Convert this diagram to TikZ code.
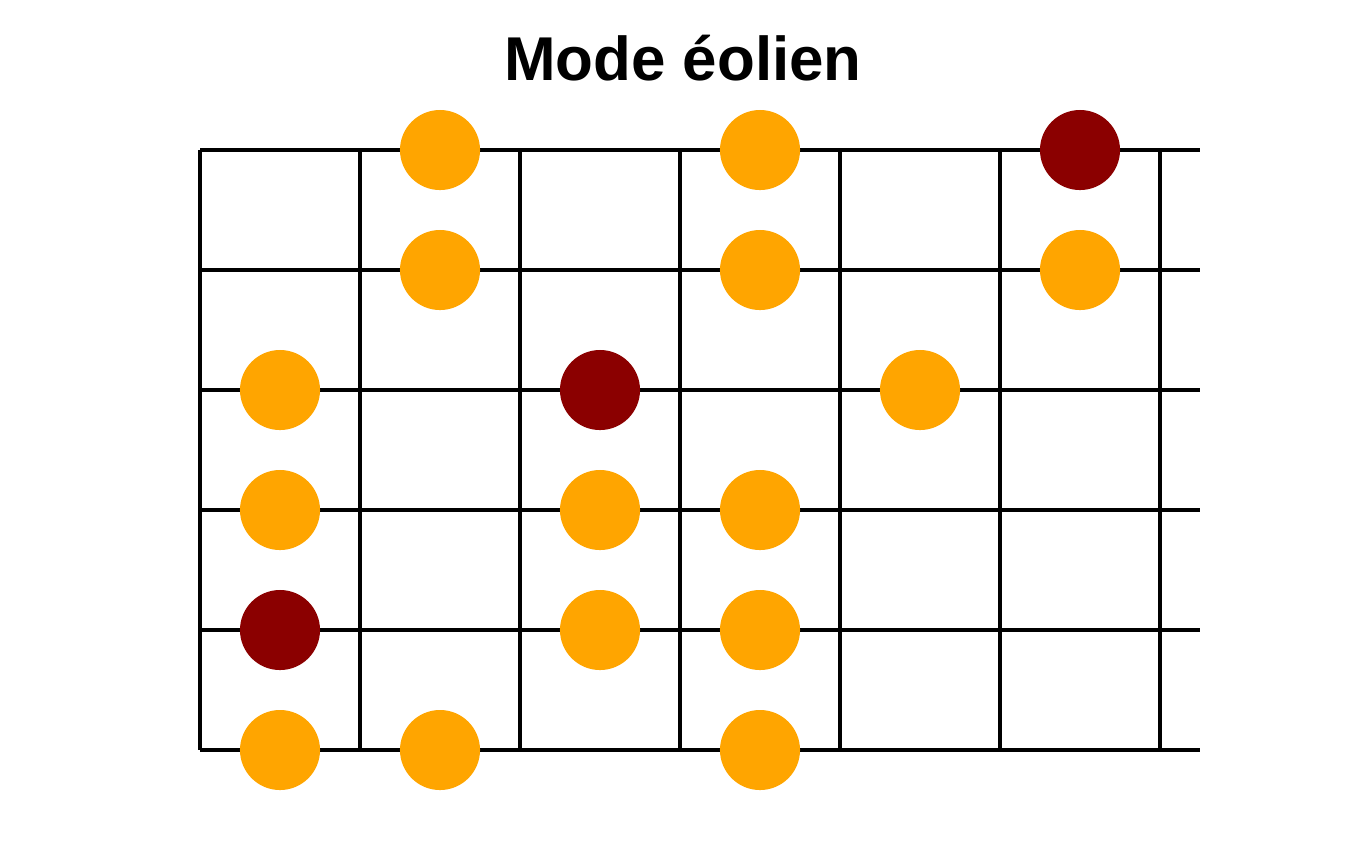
\documentclass[tikz,border=0pt]{standalone}
\usepackage{fontspec}
\setmainfont{Liberation Sans}
\definecolor{dorange}{RGB}{255,165,0}
\definecolor{droot}{RGB}{139,0,0}
\begin{document}
\begin{tikzpicture}[x=0.01cm,y=-0.01cm,
  fretline/.style={line width=0.04cm,black},
  note/.style={circle,fill=dorange,minimum size=0.8cm,inner sep=0pt},
  root/.style={circle,fill=droot,minimum size=0.8cm,inner sep=0pt}]
\useasboundingbox (0,0) rectangle (1360,850);
\node[font=\bfseries\fontsize{17.6}{20}\selectfont] (title) at (683,58) {Mode éolien};
\foreach \y in {150,270,390,510,630,750} \draw[fretline] (200,\y) -- (1200,\y);
\foreach \x in {200,360,520,680,840,1000,1160} \draw[fretline] (\x,150) -- (\x,750);
\node[note] (n1) at (440,150) {};
\node[note] (n2) at (760,150) {};
\node[root] (n3) at (1080,150) {};
\node[note] (n4) at (440,270) {};
\node[note] (n5) at (760,270) {};
\node[note] (n6) at (1080,270) {};
\node[note] (n7) at (280,390) {};
\node[root] (n8) at (600,390) {};
\node[note] (n9) at (920,390) {};
\node[note] (n10) at (280,510) {};
\node[note] (n11) at (600,510) {};
\node[note] (n12) at (760,510) {};
\node[root] (n13) at (280,630) {};
\node[note] (n14) at (600,630) {};
\node[note] (n15) at (760,630) {};
\node[note] (n16) at (280,750) {};
\node[note] (n17) at (440,750) {};
\node[note] (n18) at (760,750) {};
\end{tikzpicture}
\end{document}
